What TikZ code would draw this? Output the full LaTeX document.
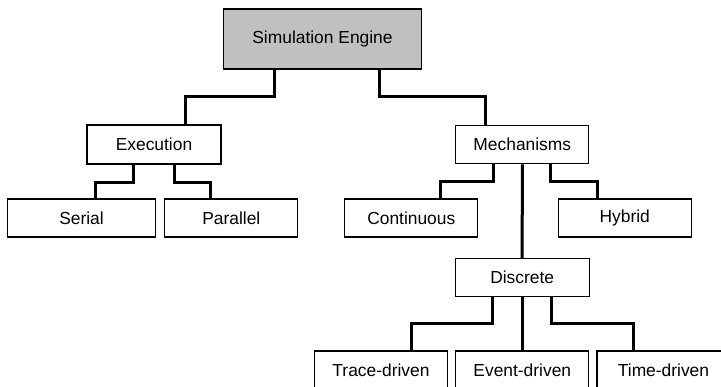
\documentclass[tikz,border=0pt]{standalone}
\usepackage{fontspec}
\setmainfont{Liberation Sans}
\begin{document}
\begin{tikzpicture}[x=1pt,y=-1pt,
  box/.style={draw=black, line width=1.3pt, fill=white, inner sep=0pt,
    minimum width=133pt, minimum height=38pt,
    font=\fontsize{17.4pt}{20pt}\selectfont},
  rootbox/.style={box, fill=rootgray, minimum width=198pt, minimum height=60pt},
  conn/.style={draw=black, line width=3pt, line cap=butt, line join=miter}]
\definecolor{rootgray}{RGB}{192,192,192}
\useasboundingbox (0,0) rectangle (721,387);
\clip (0,0) rectangle (721,387);

% boxes of the hierarchy
\node[rootbox] (engine) at (322.5,39) {Simulation Engine};
\node[box, minimum width=134pt, minimum height=39pt] (exec) at (154,144.5) {Execution};
\node[box, minimum width=148pt] (serial) at (81.5,218) {Serial};
\node[box] (parallel) at (231.3,218) {Parallel};
\node[box] (mech) at (522.3,144.7) {Mechanisms};
\node[box] (cont) at (411.3,218) {Continuous};
\node[box] (hybrid) at (624.7,218) {Hybrid};
\node[box, minimum width=134pt] (discrete) at (522.2,277.7) {Discrete};
\node[box] (trace) at (381,370) {Trace-driven};
\node[box] (event) at (522.3,370) {Event-driven};
\node[box] (time) at (663.5,370) {Time-driven};

% root to first level
\draw[conn] ([xshift=-48.5pt]engine.south) -- ++(0,27) -| ([xshift=31pt]exec.north);
\draw[conn] ([xshift=56.5pt]engine.south) -- ++(0,27) -| ([xshift=-36.6pt]mech.north);
% execution branches
\draw[conn] ([xshift=-20.7pt]exec.south) -- ++(0,17.5) -| ([xshift=13.5pt]serial.north);
\draw[conn] ([xshift=20pt]exec.south) -- ++(0,17.5) -| ([xshift=-20.6pt]parallel.north);
% mechanism branches
\draw[conn] ([xshift=-29pt]mech.south) -- ++(0,17.3) -| ([xshift=29.4pt]cont.north);
\draw[conn] (mech.south) -- (discrete.north);
\draw[conn] ([xshift=27.7pt]mech.south) -- ++(0,17.3) -| ([xshift=-27pt]hybrid.north);
% discrete branches
\draw[conn] ([xshift=-30pt]discrete.south) -- ++(0,26) -| ([xshift=30pt]trace.north);
\draw[conn] (discrete.south -| event.north) -- (event.north);
\draw[conn] ([xshift=29.5pt]discrete.south) -- ++(0,26) -| ([xshift=-30pt]time.north);
\end{tikzpicture}
\end{document}
